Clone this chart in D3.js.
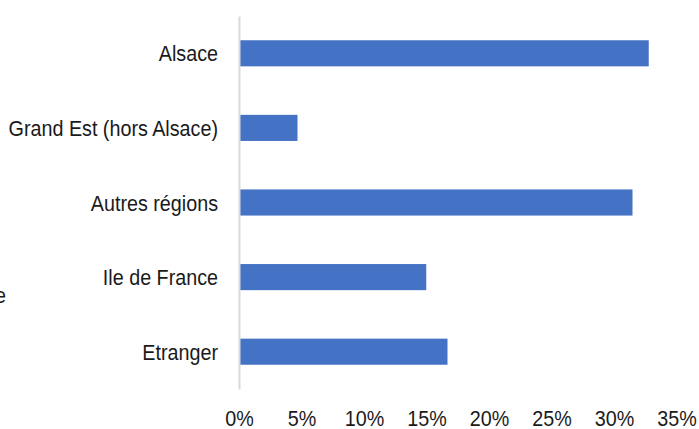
<!DOCTYPE html>
<html><head><meta charset="utf-8">
<script src="https://cdn.jsdelivr.net/npm/d3@7"></script>
<style>
html,body{margin:0;padding:0;background:#fff;}
text{font-family:"Liberation Sans",Arial,sans-serif;fill:#1a1a1a;}
</style></head>
<body><svg id="c" width="699" height="429"></svg>
<script>
const categories = ["Alsace","Grand Est (hors Alsace)","Autres régions","Ile de France","Etranger"];
const values = [0.327, 0.046, 0.314, 0.149, 0.166];
const tickValues = [0,0.05,0.10,0.15,0.20,0.25,0.30,0.35];

const svg = d3.select("#c");
const FS = 22.5, SX = 0.877;
const x = d3.scaleLinear().domain([0,0.35]).range([240,677.5]);
const y = d3.scaleBand().domain(categories).range([16,389]).paddingInner(0.65).paddingOuter(0.325);

svg.append("g").selectAll("rect").data(categories).join("rect")
  .attr("x", x(0)).attr("y", d=>y(d))
  .attr("width", (d,i)=>x(values[i])-x(0)).attr("height", y.bandwidth())
  .attr("fill","#4472C4");

const ya = svg.append("g").attr("transform","translate(239,0)")
  .call(d3.axisLeft(y).tickSize(0).tickPadding(21));
ya.select(".domain").attr("stroke","#d9d9d9").attr("stroke-width",2);
ya.selectAll("text").attr("font-size",FS).attr("font-family",null)
  .attr("x",null).attr("dy",null)
  .attr("transform","translate(-21,8) scale("+SX+",1)");

const xa = svg.append("g").attr("transform","translate(0,426)")
  .call(d3.axisBottom(x).tickValues(tickValues).tickFormat(d3.format(".0%")).tickSize(0).tickPadding(0));
xa.select(".domain").remove();
xa.selectAll("text").attr("font-size",FS).attr("font-family",null)
  .attr("y",null).attr("dy",null)
  .attr("transform","translate(-1,0) scale("+SX+",1)");

svg.append("text").attr("transform","translate(-5,303) scale("+SX+",1)")
  .attr("font-size",FS).text("e");
</script></body></html>
